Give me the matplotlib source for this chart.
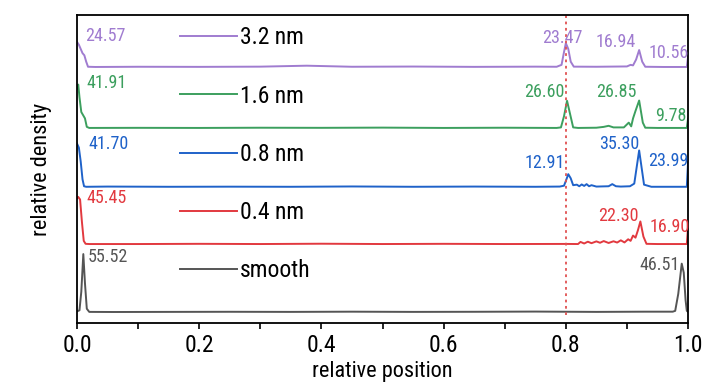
import matplotlib
matplotlib.use("Agg")
import matplotlib.pyplot as plt

plt.rcParams["font.family"] = ["Roboto Condensed", "Liberation Sans", "DejaVu Sans"]

# ── data (relative density profiles) ────────────────────────────────────────
labels = ["3.2 nm", "1.6 nm", "0.8 nm", "0.4 nm", "smooth"]
colors = ["#a07cd0", "#3c9f5e", "#1f62c9", "#e2393f", "#555555"]

x_smooth = [0.0, 0.004, 0.007, 0.0103, 0.013, 0.016, 0.02, 0.06, 0.15, 0.25,
            0.35, 0.45, 0.55, 0.65, 0.75, 0.85, 0.93, 0.975, 0.979, 0.984,
            0.9897, 0.993, 0.996, 0.998, 1.0]
y_smooth = [1.5, 2.5, 20.0, 55.52, 28.0, 4.0, 1.0, 0.9, 1.0, 1.1,
            1.0, 1.2, 1.0, 1.1, 1.3, 1.0, 1.2, 1.2, 2.0, 18.0,
            46.51, 38.0, 12.0, 2.0, 1.0]

x_04 = [0.0, 0.002, 0.005, 0.008, 0.011, 0.014, 0.02, 0.1, 0.2, 0.3,
        0.4, 0.5, 0.6, 0.7, 0.8, 0.82, 0.824, 0.83, 0.836, 0.842, 0.85,
        0.856, 0.862, 0.87, 0.878, 0.884, 0.89, 0.896, 0.902, 0.906, 0.91,
        0.914, 0.918, 0.922, 0.927, 0.932, 0.95, 0.98, 0.998, 1.0]
y_04 = [44.0, 45.45, 43.0, 22.0, 4.0, 1.2, 1.0, 1.0, 1.2, 1.0,
        1.3, 1.0, 1.2, 1.0, 1.1, 1.0, 3.0, 1.5, 3.2, 1.8, 3.5,
        2.2, 3.8, 2.0, 3.6, 2.4, 4.5, 2.5, 5.5, 4.0, 9.0,
        7.0, 14.0, 22.30, 8.0, 1.2, 1.0, 1.0, 1.0, 16.90]

x_08 = [0.0, 0.003, 0.006, 0.009, 0.0115, 0.015, 0.05, 0.15, 0.25, 0.35,
        0.45, 0.55, 0.65, 0.75, 0.79, 0.797, 0.801, 0.804, 0.808, 0.812,
        0.818, 0.822, 0.826, 0.83, 0.834, 0.838, 0.842, 0.85, 0.87,
        0.876, 0.882, 0.89, 0.905, 0.912, 0.92, 0.928, 0.94, 0.97, 0.998, 1.0]
y_08 = [41.70, 38.0, 25.0, 8.0, 1.5, 1.0, 1.2, 1.0, 1.1, 1.0,
        1.3, 1.0, 1.2, 1.0, 1.2, 2.0, 8.0, 12.91, 9.0, 2.5,
        3.0, 1.5, 3.2, 1.8, 3.5, 1.5, 2.5, 1.2, 1.5,
        3.5, 1.5, 1.2, 1.5, 4.0, 35.30, 3.0, 1.0, 1.0, 1.0, 23.99]

x_16 = [0.0, 0.002, 0.004, 0.007, 0.01, 0.013, 0.016, 0.02, 0.1, 0.2,
        0.3, 0.4, 0.5, 0.6, 0.7, 0.785, 0.792, 0.797, 0.802, 0.807,
        0.812, 0.82, 0.85, 0.862, 0.87, 0.878, 0.895, 0.903, 0.907,
        0.91, 0.914, 0.92, 0.926, 0.93, 0.95, 0.98, 0.998, 1.0]
y_16 = [38.0, 41.91, 30.0, 16.0, 13.0, 10.0, 2.0, 1.0, 1.1, 1.0,
        1.2, 1.1, 1.3, 1.0, 1.2, 1.0, 1.5, 12.0, 26.60, 14.0,
        1.5, 1.0, 1.2, 2.0, 3.0, 1.5, 1.5, 6.0, 2.5,
        10.0, 17.0, 26.85, 6.0, 1.2, 1.0, 1.0, 1.0, 9.78]

x_32 = [0.0, 0.003, 0.006, 0.009, 0.012, 0.015, 0.018, 0.03, 0.1, 0.2,
        0.3, 0.376, 0.45, 0.55, 0.65, 0.75, 0.785, 0.793, 0.797, 0.80,
        0.804, 0.808, 0.813, 0.85, 0.9, 0.906, 0.91, 0.915, 0.92,
        0.925, 0.93, 0.96, 0.998, 1.0]
y_32 = [24.57, 22.0, 18.0, 14.0, 12.0, 6.0, 1.2, 1.0, 1.2, 1.1,
        1.3, 2.2, 1.2, 1.4, 1.1, 1.3, 1.2, 3.0, 15.0, 23.47,
        18.0, 6.0, 1.3, 1.2, 1.5, 3.0, 2.5, 8.0, 16.94,
        6.0, 1.2, 1.0, 1.0, 10.56]

x_data = [x_32, x_16, x_08, x_04, x_smooth]
y_data = [y_32, y_16, y_08, y_04, y_smooth]

# peak values written next to each curve: (x, value)
peak_32 = [(0.013, "24.57"), (0.794, "23.47"), (0.882, "16.94"), (0.969, "10.56")]
peak_16 = [(0.015, "41.91"), (0.764, "26.60"), (0.883, "26.85"), (0.971, "9.78")]
peak_08 = [(0.018, "41.70"), (0.765, "12.91"), (0.888, "35.30"), (0.968, "23.99")]
peak_04 = [(0.016, "45.45"), (0.886, "22.30"), (0.970, "16.90")]
peak_sm = [(0.018, "55.52"), (0.953, "46.51")]


# ── layout ───────────────────────────────────────────────────────────────────
offsets = [231.0, 173.5, 118.0, 64.0, 0.0]
# label heights above each curve's offset, one per value label
label_dy = [[30, 28, 25, 14],
            [43.5, 35, 35, 12.5],
            [41, 23.5, 41, 25.4],
            [44.5, 27.5, 17],
            [53, 45]]
peak_sets = [peak_32, peak_16, peak_08, peak_04, peak_sm]

fig = plt.figure(figsize=(7.28, 3.90), dpi=100)
ax = fig.add_axes([0.1058, 0.172, 0.8393, 0.7895])

handles = []
for xs, ys, off, col, lab in zip(x_data, y_data, offsets, colors, labels):
    h, = ax.plot(xs, [off + v for v in ys], color=col, linewidth=1.4, label=lab)
    handles.append(h)

for peaks, dys, off, col in zip(peak_sets, label_dy, offsets, colors):
    for i, ((px, txt), dy) in enumerate(zip(peaks, dys)):
        ha = "left" if i == 0 else "center"
        ax.text(px, off + dy, txt, color=col, fontsize=13, ha=ha, va="center")

ax.axvline(0.80, ymin=0.026, ymax=1.0, color="#e05050", linestyle=(0, (1.5, 2)),
           linewidth=1.3)
ax.set_xlim(0.0, 1.0)
ax.set_ylim(-9.4, 281)
ax.set_yticks([])
ax.set_xticks([0.0, 0.2, 0.4, 0.6, 0.8, 1.0])
ax.set_xticks([0.1, 0.3, 0.5, 0.7, 0.9], minor=True)
ax.tick_params(axis="x", which="both", direction="out", length=4, width=1.2,
               labelsize=17, pad=4)
for s in ax.spines.values():
    s.set_linewidth(1.3)
ax.set_xlabel("relative position", fontsize=16, labelpad=3)
ax.set_ylabel("relative density", fontsize=16, labelpad=18)

ax.legend(handles=handles, loc="upper left", bbox_to_anchor=(0.1686, 0.963),
          frameon=False, fontsize=17, handlelength=2.4, handletextpad=0.15,
          labelspacing=1.49, borderpad=0, borderaxespad=0)

fig.savefig("out.png", dpi=100)
